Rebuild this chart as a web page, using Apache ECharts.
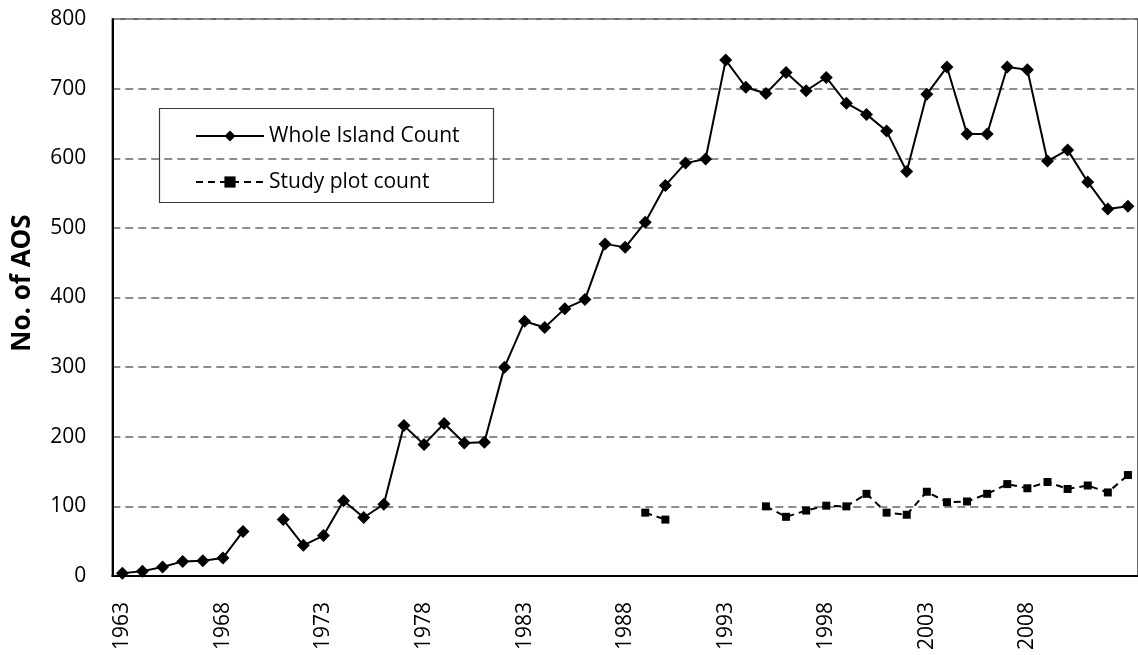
<!DOCTYPE html>
<html>
<head>
<meta charset="utf-8">
<script src="https://cdn.jsdelivr.net/npm/echarts@6/dist/echarts.min.js"></script>
<style>
html,body{margin:0;padding:0;background:#fff;}
#c{width:1138px;height:655px;}
</style>
</head>
<body>
<div id="c"></div>
<script>
const years = [];
for (let y = 1963; y <= 2013; y++) years.push(String(y));

const tickLabels = ['1963', '1968', '1973', '1978', '1983', '1988', '1993', '1998', '2003', '2008'];

const wholeIsland = [4, 7, 13, 21, 22, 26, 64, null, 81, 44, 58, 108, 84, 103,
  216, 189, 219, 191, 192, 300, 366, 357, 384, 397, 477, 472, 508, 561, 593, 599,
  741, 702, 693, 723, 697, 716, 679, 663, 639, 581, 692, 731, 635, 635, 731, 727,
  596, 612, 566, 527, 531];

const studyPlot = [null, null, null, null, null, null, null, null, null, null,
  null, null, null, null, null, null, null, null, null, null, null, null, null,
  null, null, null, 91, 81, null, null, null, null, 100, 85, 94, 101, 100, 118,
  91, 88, 121, 106, 107, 118, 132, 126, 135, 125, 130, 120, 145];

const yTicks = { min: 0, max: 800, interval: 100 };

const FONT = '"Open Sans", "Liberation Sans", sans-serif';

const chart = echarts.init(document.getElementById('c'), null, { renderer: 'canvas' });
chart.setOption({
  animation: false,
  backgroundColor: '#fff',
  grid: {
    left: 112.3, top: 19, width: 1034.8, height: 557,
    show: true, borderColor: '#3a3a3a', borderWidth: 1.5, backgroundColor: 'transparent'
  },
  legend: {
    left: 190, top: 119, orient: 'vertical',
    itemWidth: 68, itemHeight: 14, itemGap: 22,
    textStyle: { fontFamily: FONT, fontSize: 21, color: '#000', lineHeight: 24 },
    data: ['Whole Island Count', 'Study plot count']
  },
  graphic: [
    { type: 'rect', left: 157, top: 106, shape: { width: 334, height: 94 },
      style: { fill: 'none', stroke: '#3a3a3a', lineWidth: 1.2 }, z: 10 },
    { type: 'text', x: 23, y: 283, rotation: Math.PI / 2,
      style: { text: 'No. of AOS', fontFamily: FONT, fontWeight: 'bold', fontSize: 26,
        fill: '#000', align: 'center', verticalAlign: 'middle' } }
  ],
  xAxis: {
    type: 'category', data: years, boundaryGap: true,
    axisLine: { lineStyle: { color: '#000', width: 2 } },
    axisTick: { show: false },
    axisLabel: {
      interval: (i, v) => tickLabels.indexOf(v) !== -1,
      rotate: 90, margin: 26, fontFamily: FONT, fontSize: 21, color: '#000'
    },
    splitLine: { show: false }
  },
  yAxis: {
    type: 'value', min: yTicks.min, max: yTicks.max, interval: yTicks.interval,
    axisLine: { show: true, lineStyle: { color: '#000', width: 2 } },
    axisTick: { show: false },
    axisLabel: { margin: 26, fontFamily: FONT, fontSize: 21, color: '#000' },
    splitLine: { show: true, lineStyle: { color: '#8c8c8c', width: 2, type: [8, 5] } }
  },
  series: [
    {
      name: 'Whole Island Count', type: 'line', data: wholeIsland,
      symbol: 'diamond', symbolSize: 13, connectNulls: false,
      itemStyle: { color: '#000' },
      lineStyle: { color: '#000', width: 2 }, z: 5
    },
    {
      name: 'Study plot count', type: 'line', data: studyPlot,
      symbol: 'rect', symbolSize: 8, connectNulls: false,
      itemStyle: { color: '#000' },
      lineStyle: { color: '#000', width: 2, type: [7, 5] }, z: 5
    }
  ]
});
</script>
</body>
</html>
